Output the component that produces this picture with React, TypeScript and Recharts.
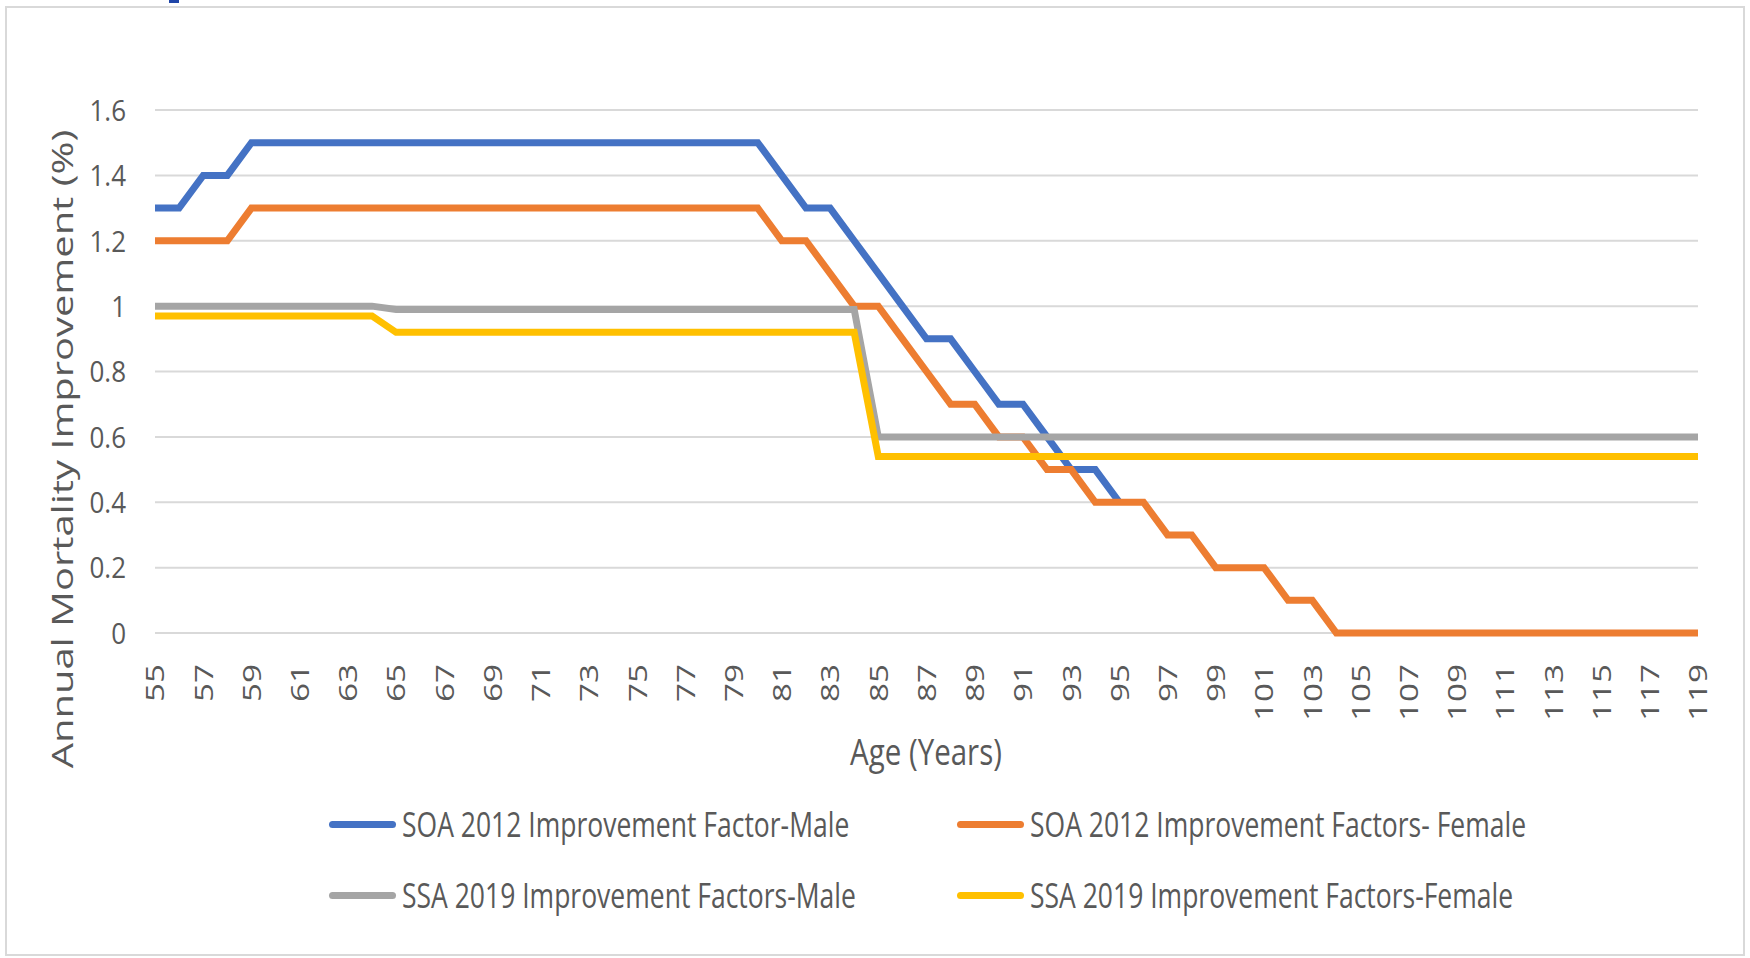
import React from "react";
import { LineChart, Line, XAxis, YAxis, CartesianGrid, Legend } from "recharts";

const ages = [
  55, 56, 57, 58, 59, 60, 61, 62, 63, 64, 65, 66, 67, 68, 69, 70, 71, 72, 73, 74, 75, 76,
  77, 78, 79, 80, 81, 82, 83, 84, 85, 86, 87, 88, 89, 90, 91, 92, 93, 94, 95, 96, 97, 98,
  99, 100, 101, 102, 103, 104, 105, 106, 107, 108, 109, 110, 111, 112, 113, 114, 115, 116,
  117, 118, 119,
];

const soaMale: (number | null)[] = [
  1.3, 1.3, 1.4, 1.4, 1.5, 1.5, 1.5, 1.5, 1.5, 1.5, 1.5, 1.5, 1.5, 1.5, 1.5, 1.5, 1.5, 1.5,
  1.5, 1.5, 1.5, 1.5, 1.5, 1.5, 1.5, 1.5, 1.4, 1.3, 1.3, 1.2, 1.1, 1.0, 0.9, 0.9, 0.8, 0.7,
  0.7, 0.6, 0.5, 0.5, 0.4, null, null, null, null, null, null, null, null, null, null, null,
  null, null, null, null, null, null, null, null, null, null, null, null, null,
];

const soaFemale = [
  1.2, 1.2, 1.2, 1.2, 1.3, 1.3, 1.3, 1.3, 1.3, 1.3, 1.3, 1.3, 1.3, 1.3, 1.3, 1.3, 1.3, 1.3,
  1.3, 1.3, 1.3, 1.3, 1.3, 1.3, 1.3, 1.3, 1.2, 1.2, 1.1, 1.0, 1.0, 0.9, 0.8, 0.7, 0.7, 0.6,
  0.6, 0.5, 0.5, 0.4, 0.4, 0.4, 0.3, 0.3, 0.2, 0.2, 0.2, 0.1, 0.1, 0, 0, 0, 0, 0, 0, 0, 0,
  0, 0, 0, 0, 0, 0, 0, 0,
];

const ssaMale = [
  1.0, 1.0, 1.0, 1.0, 1.0, 1.0, 1.0, 1.0, 1.0, 1.0, 0.99, 0.99, 0.99, 0.99, 0.99, 0.99,
  0.99, 0.99, 0.99, 0.99, 0.99, 0.99, 0.99, 0.99, 0.99, 0.99, 0.99, 0.99, 0.99, 0.99, 0.6,
  0.6, 0.6, 0.6, 0.6, 0.6, 0.6, 0.6, 0.6, 0.6, 0.6, 0.6, 0.6, 0.6, 0.6, 0.6, 0.6, 0.6, 0.6,
  0.6, 0.6, 0.6, 0.6, 0.6, 0.6, 0.6, 0.6, 0.6, 0.6, 0.6, 0.6, 0.6, 0.6, 0.6, 0.6,
];

const ssaFemale = [
  0.97, 0.97, 0.97, 0.97, 0.97, 0.97, 0.97, 0.97, 0.97, 0.97, 0.92, 0.92, 0.92, 0.92, 0.92,
  0.92, 0.92, 0.92, 0.92, 0.92, 0.92, 0.92, 0.92, 0.92, 0.92, 0.92, 0.92, 0.92, 0.92, 0.92,
  0.54, 0.54, 0.54, 0.54, 0.54, 0.54, 0.54, 0.54, 0.54, 0.54, 0.54, 0.54, 0.54, 0.54, 0.54,
  0.54, 0.54, 0.54, 0.54, 0.54, 0.54, 0.54, 0.54, 0.54, 0.54, 0.54, 0.54, 0.54, 0.54, 0.54,
  0.54, 0.54, 0.54, 0.54, 0.54,
];

const yTicks = [0, 0.2, 0.4, 0.6, 0.8, 1, 1.2, 1.4, 1.6];

const seriesNames = [
  "SOA 2012 Improvement Factor-Male",
  "SOA 2012 Improvement Factors- Female",
  "SSA 2019 Improvement Factors-Male",
  "SSA 2019 Improvement Factors-Female",
];
const seriesKeys = ["soaMale", "soaFemale", "ssaMale", "ssaFemale"];
const seriesColors = ["#4472C4", "#ED7D31", "#A5A5A5", "#FFC000"];

const data = ages.map((age, i) => ({
  age,
  soaMale: soaMale[i],
  soaFemale: soaFemale[i],
  ssaMale: ssaMale[i],
  ssaFemale: ssaFemale[i],
}));

const FONT = "'Open Sans', sans-serif";
const TEXT = "#595959";

const XTick = (props: any) => {
  const { x, y, payload } = props;
  return (
    <g transform={`translate(${x},${y})`}>
      <text
        transform="rotate(-90) scale(1.28,1)"
        textAnchor="end"
        dy="0.36em"
        fontSize={26}
        fontFamily={FONT}
        fill={TEXT}
      >
        {payload.value}
      </text>
    </g>
  );
};

const YTick = (props: any) => {
  const { x, y, payload } = props;
  return (
    <g transform={`translate(${x},${y}) scale(1,1.15)`}>
      <text textAnchor="end" dy="0.36em" fontSize={26} fontFamily={FONT} fill={TEXT}>
        {String(payload.value)}
      </text>
    </g>
  );
};

const legendPos = [
  { left: 329, top: 24 },
  { left: 957, top: 24 },
  { left: 329, top: 95 },
  { left: 957, top: 95 },
];

const LegendContent = (props: any) => {
  const payload = props.payload || [];
  return (
    <div style={{ position: "relative", width: 1750, height: 130 }}>
      {payload.map((entry: any) => {
        const idx = Math.max(0, seriesNames.indexOf(entry.value));
        return (
          <div
            key={entry.value}
            style={{
              position: "absolute",
              left: legendPos[idx].left,
              top: legendPos[idx].top - 20,
              height: 40,
              display: "flex",
              alignItems: "center",
              whiteSpace: "nowrap",
            }}
          >
            <div
              style={{
                width: 67,
                height: 7,
                borderRadius: 4,
                background: seriesColors[idx],
                marginRight: 6,
              }}
            />
            <span
              style={{
                fontFamily: FONT,
                fontSize: 26.5,
                color: TEXT,
                display: "inline-block",
                transform: "scaleY(1.3)",
                transformOrigin: "left center",
                lineHeight: "40px",
              }}
            >
              {entry.value}
            </span>
          </div>
        );
      })}
    </div>
  );
};

export default function App() {
  return (
    <div style={{ position: "absolute", left: 0, top: 0, width: 1750, height: 958, background: "#fff" }}>
      <div
        style={{
          position: "absolute",
          left: 5,
          top: 6,
          width: 1740,
          height: 950,
          border: "2px solid #d9d9d9",
          boxSizing: "border-box",
          pointerEvents: "none",
        }}
      />
      <div style={{ position: "absolute", left: 169, top: 0, width: 10, height: 3, background: "#1f45a8" }} />
      <div style={{ position: "absolute", left: 0, top: 0 }}>
        <LineChart
          width={1750}
          height={958}
          data={data}
          margin={{ top: 110, right: 52, left: 0, bottom: 0 }}
        >
          <CartesianGrid vertical={false} stroke="#d9d9d9" strokeWidth={2} />
          <XAxis
            dataKey="age"
            type="category"
            interval={1}
            height={325}
            axisLine={false}
            tickLine={false}
            tickSize={0}
            tickMargin={31}
            tick={<XTick />}
            label={{
              content: () => (
                <text
                  transform="translate(926,765) scale(1,1.26)"
                  textAnchor="middle"
                  fontSize={29.5}
                  fontFamily={FONT}
                  fill={TEXT}
                >
                  Age (Years)
                </text>
              ),
            }}
          />
          <YAxis
            width={155}
            domain={[0, 1.6]}
            ticks={yTicks}
            axisLine={false}
            tickLine={false}
            tickSize={0}
            tickMargin={29}
            tick={<YTick />}
            label={{
              content: () => (
                <text
                  transform="translate(62,449) rotate(-90) scale(1.33,1)"
                  textAnchor="middle"
                  dy="0.36em"
                  fontSize={30}
                  fontFamily={FONT}
                  fill={TEXT}
                >
                  Annual Mortality Improvement (%)
                </text>
              ),
            }}
          />
          {seriesKeys.map((k, i) => (
            <Line
              key={k}
              type="linear"
              dataKey={k}
              name={seriesNames[i]}
              stroke={seriesColors[i]}
              strokeWidth={7}
              dot={false}
              activeDot={false}
              isAnimationActive={false}
            />
          ))}
          <Legend
            layout="horizontal"
            verticalAlign="middle"
            align="center"
            wrapperStyle={{ left: 0, top: 800, width: 1750, height: 130 }}
            content={<LegendContent />}
          />
        </LineChart>
      </div>
    </div>
  );
}
